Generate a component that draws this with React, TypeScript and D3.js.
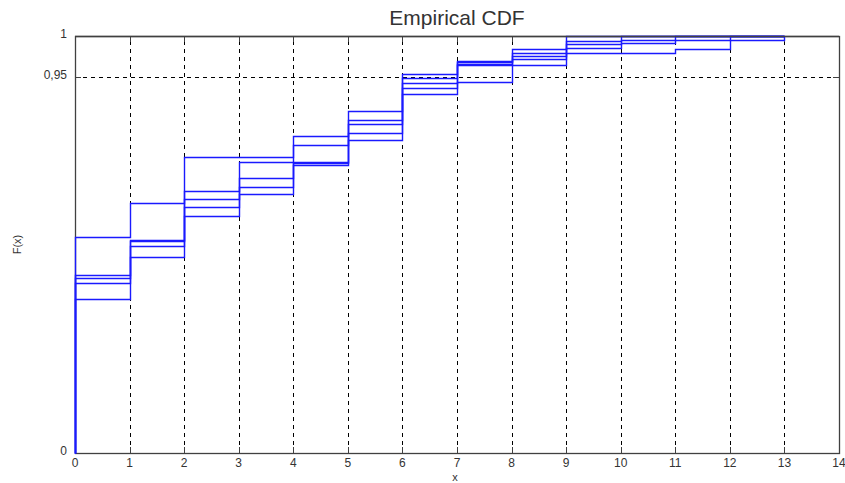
import React, { useEffect, useRef } from 'react';
import * as d3 from 'd3';

// x positions of the steps (F is constant on [x, x+1))
const steps = [0, 1, 2, 3, 4, 5, 6, 7, 8, 9, 10, 11, 12, 13];

// five empirical CDFs
const cdf1 = [0.720, 0.774, 0.842, 0.842, 0.872, 0.906, 0.953, 0.970, 0.984, 1, 1, 1, 1, 1];
const cdf2 = [0.654, 0.715, 0.793, 0.836, 0.860, 0.893, 0.948, 0.968, 0.980, 0.994, 1, 1, 1, 1];
const cdf3 = [0.648, 0.713, 0.780, 0.812, 0.836, 0.888, 0.942, 0.966, 0.976, 0.990, 0.995, 1, 1, 1];
const cdf4 = [0.639, 0.705, 0.768, 0.799, 0.834, 0.876, 0.936, 0.965, 0.972, 0.986, 0.991, 0.995, 1, 1];
const cdf5 = [0.607, 0.686, 0.754, 0.788, 0.831, 0.866, 0.928, 0.943, 0.965, 0.980, 0.980, 0.984, 0.995, 1];

const xTicks = [0, 1, 2, 3, 4, 5, 6, 7, 8, 9, 10, 11, 12, 13, 14];
const yTicks = [0, 0.95, 1];
const yTickLabels = ['0', '0,95', '1'];

const W = 845;
const H = 483;
const margin = { top: 36, right: 6, bottom: 30, left: 75 };

const App = () => {
  const svgRef = useRef<SVGSVGElement>(null);

  useEffect(() => {
    const svg = d3.select(svgRef.current);
    svg.selectAll('*').remove();

    const x = d3.scaleLinear().domain([0, 14]).range([margin.left, W - margin.right]);
    // y axis is squared: 0,95 sits at ~10% from the top
    const y = d3.scalePow().exponent(2).domain([0, 1]).range([H - margin.bottom, margin.top]);
    // snap to pixel centres so 1px lines stay sharp
    const px = (v: number) => Math.round(v) + 0.5;

    const font = 'Arial, "Liberation Sans", Helvetica, sans-serif';
    const axisColor = '#404040';

    // grid
    const grid = svg.append('g');
    grid.selectAll('.vgrid')
      .data(xTicks.slice(1, -1))
      .join('line')
      .attr('x1', d => px(x(d))).attr('x2', d => px(x(d)))
      .attr('y1', y(0)).attr('y2', y(1))
      .attr('stroke', '#000')
      .attr('stroke-width', 1)
      .attr('stroke-dasharray', '4,4');
    grid.selectAll('.hgrid')
      .data(yTicks.filter(d => d > 0 && d < 1))
      .join('line')
      .attr('x1', x(0)).attr('x2', x(14))
      .attr('y1', d => px(y(d))).attr('y2', d => px(y(d)))
      .attr('stroke', '#000')
      .attr('stroke-width', 1)
      .attr('stroke-dasharray', '4,4');

    // box
    svg.append('rect')
      .attr('x', px(x(0))).attr('y', px(y(1)))
      .attr('width', Math.round(x(14) - x(0))).attr('height', Math.round(y(0) - y(1)))
      .attr('fill', 'none')
      .attr('stroke', axisColor)
      .attr('stroke-width', 1.3);

    // inward ticks
    const tl = 6;
    const ticks = svg.append('g').attr('stroke', axisColor).attr('stroke-width', 1);
    xTicks.forEach(t => {
      ticks.append('line').attr('x1', px(x(t))).attr('x2', px(x(t))).attr('y1', y(0)).attr('y2', y(0) - tl);
      ticks.append('line').attr('x1', px(x(t))).attr('x2', px(x(t))).attr('y1', y(1)).attr('y2', y(1) + tl);
    });
    yTicks.forEach(t => {
      ticks.append('line').attr('x1', x(0)).attr('x2', x(0) + tl).attr('y1', px(y(t))).attr('y2', px(y(t)));
      ticks.append('line').attr('x1', x(14)).attr('x2', x(14) - tl).attr('y1', px(y(t))).attr('y2', px(y(t)));
    });

    // step lines
    const line = d3.line<[number, number]>()
      .x(d => px(x(d[0])))
      .y(d => px(y(d[1])))
      .curve(d3.curveStepAfter);

    const series = [cdf1, cdf2, cdf3, cdf4, cdf5];
    svg.append('g')
      .selectAll('path')
      .data(series)
      .join('path')
      .attr('d', s => line([[0, 0] as [number, number], ...steps.map((st, i) => [st, s[i]] as [number, number])]))
      .attr('fill', 'none')
      .attr('stroke', '#1a1aff')
      .attr('stroke-width', 1.4);

    // top edge stays dark over the F = 1 segments
    svg.append('line')
      .attr('x1', x(0)).attr('x2', x(14))
      .attr('y1', px(y(1))).attr('y2', px(y(1)))
      .attr('stroke', axisColor)
      .attr('stroke-width', 1.3);

    // tick labels
    svg.append('g')
      .selectAll('text')
      .data(xTicks)
      .join('text')
      .attr('x', d => x(d))
      .attr('y', y(0) + 14)
      .attr('text-anchor', 'middle')
      .attr('font-family', font)
      .attr('font-size', 12)
      .attr('fill', '#333')
      .text(d => String(d));

    svg.append('g')
      .selectAll('text')
      .data(yTicks)
      .join('text')
      .attr('x', x(0) - 8)
      .attr('y', d => y(d) + 2)
      .attr('text-anchor', 'end')
      .attr('font-family', font)
      .attr('font-size', 12)
      .attr('fill', '#333')
      .text((d, i) => yTickLabels[i]);

    // axis labels + title
    svg.append('text')
      .attr('x', (x(0) + x(14)) / 2 - 2)
      .attr('y', H - 2)
      .attr('text-anchor', 'middle')
      .attr('font-family', font)
      .attr('font-size', 11)
      .attr('fill', '#333')
      .text('x');

    svg.append('text')
      .attr('transform', `translate(21, ${(y(0) + y(1)) / 2}) rotate(-90)`)
      .attr('text-anchor', 'middle')
      .attr('font-family', font)
      .attr('font-size', 11)
      .attr('fill', '#333')
      .text('F(x)');

    svg.append('text')
      .attr('x', (x(0) + x(14)) / 2)
      .attr('y', 25)
      .attr('text-anchor', 'middle')
      .attr('font-family', font)
      .attr('font-size', 21)
      .attr('fill', '#333')
      .text('Empirical CDF');
  }, []);

  return (
    <svg
      ref={svgRef}
      width={W}
      height={H}
      style={{ position: 'absolute', left: 0, top: 0, background: '#fff' }}
    />
  );
};

export default App;
